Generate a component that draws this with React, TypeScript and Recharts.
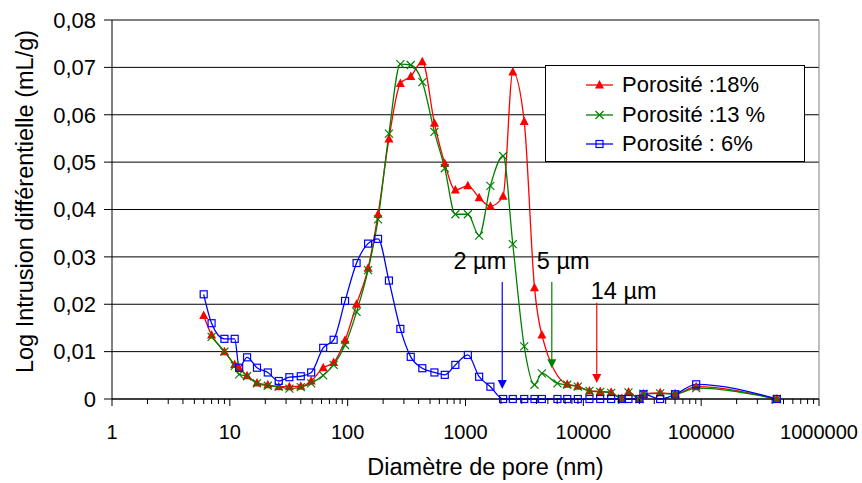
import React from "react";
import { CartesianGrid, Legend, Line, LineChart, ReferenceLine, XAxis, YAxis } from "recharts";

// diamètres de pore (nm), communs aux trois courbes
const diameters = [
  6, 7, 9, 11, 12, 14, 17, 21, 26, 32, 40, 49, 62, 76, 95, 119, 149, 181, 224, 280, 343, 430, 545, 667, 820,
  1047, 1305, 1627, 2085, 2520, 3150, 3850, 4450, 6030, 7300, 8980, 11270, 13900, 17220, 21230, 24160, 29950,
  32370, 44870, 60150, 90700, 439000,
];

// Porosité 18 %
const p18 = [
  0.0176, 0.0135, 0.01, 0.0073, 0.0065, 0.0049, 0.0034, 0.003, 0.0026, 0.0026, 0.0027, 0.0038, 0.0066, 0.0077,
  0.0124, 0.02, 0.0276, 0.039, 0.0549, 0.0666, 0.0681, 0.0712, 0.0582, 0.0497, 0.0441, 0.045, 0.0425, 0.0407,
  0.0428, 0.069, 0.0586, 0.0235, 0.0135, null, 0.0031, 0.0027, 0.0017, 0.0016, 0.0014, 0.0001, 0.0015, 0.0,
  0.0011, 0.0013, 0.0011, 0.0026, 0,
];

// Porosité 13 %
const p13 = [
  null, 0.0131, 0.01, 0.007, 0.0052, 0.0048, 0.0033, 0.0028, 0.0026, 0.0022, 0.0025, 0.0033, 0.005, 0.0072,
  0.0114, 0.0184, 0.0272, 0.0379, 0.056, 0.0707, 0.0705, 0.0669, 0.0564, 0.0487, 0.039, 0.039, 0.0345, 0.045,
  0.0513, 0.0327, 0.0111, 0.003, 0.0054, 0.0033, 0.003, 0.0026, 0.0017, 0.0015, 0.0013, 0.0001, 0.0014, 0.0,
  0.0011, 0.0012, 0.001, 0.0023, 0,
];

// Porosité 6 %
const p6 = [
  0.0221, 0.016, 0.0127, 0.0127, 0.0066, 0.0088, 0.0066, 0.0056, 0.0038, 0.0046, 0.0048, 0.0056, 0.0108, 0.0125,
  0.0207, 0.0287, 0.0328, 0.0338, 0.025, 0.0148, 0.0089, 0.0065, 0.0056, 0.0051, 0.0072, 0.0093, 0.0047, 0.0026,
  0, 0, 0, 0, 0, 0, 0, 0, 0, 0, 0, 0, 0, 0, 0.001, 0, 0.001, 0.0031, 0,
];

const yTicks = [0, 0.01, 0.02, 0.03, 0.04, 0.05, 0.06, 0.07, 0.08];
const xMajor = [1, 10, 100, 1000, 10000, 100000, 1000000];

// flèches d'annotation (x en nm, y en mL/g)
const arrows = [
  { x: 2050, top: 0.0247, tip: 0.0021, color: "#0000FF", text: "2 µm", anchor: "end", dx: 4, dy: -13 },
  { x: 5400, top: 0.0247, tip: 0.0065, color: "#008000", text: "5 µm", anchor: "start", dx: -15, dy: -13 },
  { x: 13000, top: 0.0203, tip: 0.0034, color: "#FF0000", text: "14 µm", anchor: "start", dx: -6, dy: -4 },
];

const FONT = "Arial, 'Liberation Sans', sans-serif";

const toSeries = (vals: (number | null)[]) =>
  diameters.map((d, i) => ({ x: d, y: vals[i] })).filter((p) => p.y !== null);

const series = [
  { name: "Porosité :18%", color: "#FF0000", data: toSeries(p18), marker: "triangle" },
  { name: "Porosité :13 %", color: "#008000", data: toSeries(p13), marker: "cross" },
  { name: "Porosité : 6%", color: "#0000FF", data: toSeries(p6), marker: "square" },
];

const xTicks: number[] = [];
for (let d = 0; d < 6; d++) for (let m = 1; m < 10; m++) xTicks.push(m * Math.pow(10, d));
xTicks.push(1000000);

function Marker({ kind, cx, cy, color }: any) {
  if (cx == null || cy == null) return null;
  if (kind === "triangle")
    return <polygon points={`${cx},${cy - 5} ${cx + 4.5},${cy + 3.5} ${cx - 4.5},${cy + 3.5}`} fill={color} />;
  if (kind === "cross")
    return (
      <g stroke={color} strokeWidth={1.2}>
        <line x1={cx - 4} y1={cy - 4} x2={cx + 4} y2={cy + 4} />
        <line x1={cx - 4} y1={cy + 4} x2={cx + 4} y2={cy - 4} />
      </g>
    );
  return <rect x={cx - 3.5} y={cy - 3.5} width={7} height={7} fill="none" stroke={color} strokeWidth={1.2} />;
}

function XTick({ x, y, payload }: any) {
  const major = xMajor.includes(payload.value);
  return (
    <g>
      <line x1={x} x2={x} y1={y} y2={y + (major ? 7 : 5)} stroke="#000" />
      {major && (
        <text x={x} y={y + 40} textAnchor="middle" fontSize={20} fontFamily={FONT} fill="#000">
          {payload.value}
        </text>
      )}
    </g>
  );
}

function ArrowShape({ x1, y1, y2, a }: any) {
  if (x1 == null) return null;
  return (
    <g>
      <line x1={x1} x2={x1} y1={y1} y2={y2 - 8} stroke={a.color} strokeWidth={1.2} />
      <polygon points={`${x1 - 4.5},${y2 - 9} ${x1 + 4.5},${y2 - 9} ${x1},${y2}`} fill={a.color} />
      <text x={x1 + a.dx} y={y1 + a.dy} textAnchor={a.anchor} fontSize={23.5} fontFamily={FONT} fill="#000">
        {a.text}
      </text>
    </g>
  );
}

function XTitle({ viewBox }: any) {
  const { x, y, width, height } = viewBox;
  return (
    <text x={x + width / 2 + 20} y={y + height - 8} textAnchor="middle" fontSize={23.5} fontFamily={FONT} fill="#000">
      Diamètre de pore (nm)
    </text>
  );
}

function YTitle({ viewBox }: any) {
  const { x, y, height } = viewBox;
  const cx = x + 25;
  const cy = y + height / 2 - 8;
  return (
    <text
      x={cx}
      y={cy}
      dy="0.36em"
      transform={`rotate(-90, ${cx}, ${cy})`}
      textAnchor="middle"
      fontSize={23.5}
      fontFamily={FONT}
      fill="#000"
    >
      Log Intrusion différentielle (mL/g)
    </text>
  );
}

function LegendBox() {
  return (
    <div
      style={{
        width: 260,
        height: 97,
        boxSizing: "border-box",
        border: "1px solid #000",
        background: "#fff",
        position: "relative",
        fontFamily: FONT,
        fontSize: 22,
      }}
    >
      {series.map((s, i) => (
        <div key={s.name} style={{ position: "absolute", left: 0, top: 4 + i * 29.5, height: 30, width: 258 }}>
          <svg width={30} height={30} style={{ position: "absolute", left: 39, top: 0 }}>
            <line x1={1} x2={28} y1={15} y2={15} stroke={s.color} strokeWidth={1.3} />
            <Marker kind={s.marker} cx={14.5} cy={15} color={s.color} />
          </svg>
          <span style={{ position: "absolute", left: 76, top: 1, lineHeight: "28px", whiteSpace: "nowrap" }}>
            {s.name}
          </span>
        </div>
      ))}
    </div>
  );
}

export default function App() {
  return (
    <div style={{ position: "absolute", left: 0, top: 0, width: 862, height: 483, background: "#fff" }}>
      <LineChart width={862} height={483} margin={{ top: 20, right: 43, bottom: 0, left: 0 }}>
        <CartesianGrid vertical={false} stroke="#000" />
        <XAxis
          dataKey="x"
          type="number"
          scale="log"
          domain={[1, 1000000]}
          allowDataOverflow
          ticks={xTicks}
          interval={0}
          tick={<XTick />}
          tickLine={false}
          tickSize={0}
          tickMargin={0}
          height={84}
          axisLine={{ stroke: "#000" }}
          label={{ content: (p: any) => <XTitle {...p} /> }}
        />
        <YAxis
          type="number"
          domain={[0, 0.08]}
          ticks={yTicks}
          interval={0}
          width={112}
          tickSize={8}
          tickMargin={8}
          tick={{ fontSize: 22, fontFamily: FONT, fill: "#000" }}
          tickLine={{ stroke: "#000" }}
          axisLine={{ stroke: "#000" }}
          tickFormatter={(v: number) => (v === 0 ? "0" : v.toFixed(2).replace(".", ","))}
          label={{ content: (p: any) => <YTitle {...p} /> }}
        />
        <ReferenceLine y={0.08} stroke="#808080" />
        <ReferenceLine x={1000000} stroke="#808080" />
        {series.map((s) => (
          <Line
            key={s.name}
            data={s.data}
            dataKey="y"
            name={s.name}
            type="monotone"
            stroke={s.color}
            strokeWidth={1.3}
            isAnimationActive={false}
            dot={(p: any) => <Marker key={`${s.name}-${p.index}`} kind={s.marker} cx={p.cx} cy={p.cy} color={s.color} />}
            activeDot={false}
          />
        ))}
        {arrows.map((a) => (
          <ReferenceLine
            key={a.text}
            segment={[
              { x: a.x, y: a.top },
              { x: a.x, y: a.tip },
            ]}
            shape={(p: any) => <ArrowShape {...p} a={a} />}
          />
        ))}
        <Legend
          layout="horizontal"
          verticalAlign="middle"
          align="center"
          content={() => <LegendBox />}
          wrapperStyle={{ position: "absolute", left: 545, top: 65, width: 260, height: 97 }}
        />
      </LineChart>
    </div>
  );
}
